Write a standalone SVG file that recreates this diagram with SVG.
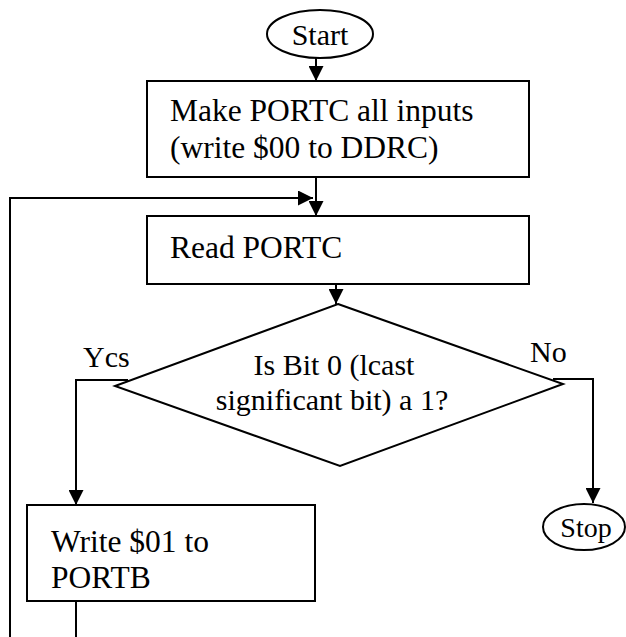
<svg xmlns="http://www.w3.org/2000/svg" width="626" height="637" viewBox="0 0 626 637">
<defs>
<style>
.shape{fill:#fff;stroke:#000;stroke-width:2}
.line{fill:none;stroke:#000;stroke-width:2}
.t{font-family:"Liberation Serif","Times New Roman",serif;font-size:30px;fill:#000}
.b{font-size:31.5px}
</style>
<marker id="arrB" viewBox="0 0 10 10" refX="10" refY="5" markerWidth="15" markerHeight="15" markerUnits="userSpaceOnUse" orient="auto">
<path d="M0,0 L10,5 L0,10 Z" fill="#000"/>
</marker>
</defs>
<rect width="626" height="637" fill="#fff"/>
<g id="connectors">
<path class="line" d="M316,58 V81" marker-end="url(#arrB)"/>
<path class="line" d="M316,177 V216" marker-end="url(#arrB)"/>
<path class="line" d="M76,637 V601 M10,637 V198 H313" marker-end="url(#arrB)"/>
<path class="line" d="M336,284 V304" marker-end="url(#arrB)"/>
<path class="line" d="M128,380 H76 V505" marker-end="url(#arrB)"/>
<path class="line" d="M553,379 H593 V503" marker-end="url(#arrB)"/>
</g>
<g id="start">
<ellipse class="shape" cx="320" cy="34" rx="53" ry="24"/>
<text class="t" x="320" y="45" text-anchor="middle" style="font-size:30px">Start</text>
</g>
<g id="init">
<rect class="shape" x="147" y="81" width="382" height="96"/>
<text class="t b" x="170" y="121">Make PORTC all inputs</text>
<text class="t b" x="170" y="158">(write $00 to DDRC)</text>
</g>
<g id="read">
<rect class="shape" x="147" y="216" width="382" height="68"/>
<text class="t b" x="170" y="258">Read PORTC</text>
</g>
<g id="decision">
<polygon class="shape" points="338,304 563,384 340,466 115,386"/>
<text class="t" x="334" y="375" text-anchor="middle">Is Bit 0 (lcast</text>
<text class="t" x="332" y="410" text-anchor="middle">significant bit) a 1?</text>
</g>
<text class="t" x="83" y="367">Ycs</text>
<text class="t" x="530" y="362">No</text>
<g id="write">
<rect class="shape" x="27" y="505" width="288" height="96"/>
<text class="t b" x="51" y="552">Write $01 to</text>
<text class="t b" x="51" y="588">PORTB</text>
</g>
<g id="stop">
<ellipse class="shape" cx="584" cy="527" rx="41" ry="23"/>
<text class="t" x="586" y="537" text-anchor="middle" style="font-size:28px">Stop</text>
</g>
</svg>
